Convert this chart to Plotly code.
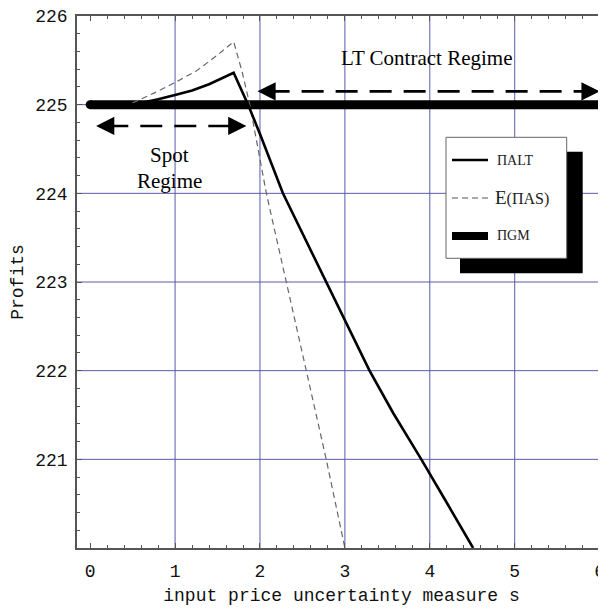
import plotly.graph_objects as go

# ---- data ----
s_alt = [0.5, 0.8, 1.0, 1.2, 1.4, 1.69, 1.86, 2.0, 2.27, 2.5, 2.78, 3.0, 3.29, 3.57, 3.9, 4.2, 4.51]
pi_alt = [225.0, 225.06, 225.11, 225.16, 225.23, 225.36, 225.0, 224.67, 224.0, 223.55,
          223.0, 222.57, 222.0, 221.52, 221.0, 220.51, 220.0]
s_as = [0.5, 0.75, 1.0, 1.25, 1.5, 1.69, 1.79, 1.88, 2.075, 2.31, 2.55, 2.78, 3.0]
e_as = [225.02, 225.13, 225.25, 225.38, 225.56, 225.71, 225.37, 225.0, 224.0, 223.0, 222.0, 221.0, 220.0]
s_gm = [0, 6]
pi_gm = [225, 225]
x_ticks = [0, 1, 2, 3, 4, 5, 6]
y_ticks = [221, 222, 223, 224, 225, 226]
grid_x = [1, 2, 3, 4, 5]
grid_y = [221, 222, 223, 224, 225]
spot_arrow = (0.07, 1.84, 224.76)
lt_arrow = (1.97, 6.0, 225.15)
legend_labels = ["ΠALT", "E(ΠAS)", "ΠGM"]

# page body has an 8px default margin; size the figure so it fills the 606x611 window
OFF = 8
W, H = 606 - OFF, 611 - OFF
L, R, T, B = 77 - OFF, 0, 16 - OFF, 63
PW, PH = W - L - R, H - T - B


def px(xp):
    return (xp - OFF - L) / PW


def py(yp):
    return 1 - (yp - OFF - T) / PH


fig = go.Figure()
fig.add_trace(go.Scatter(x=s_gm, y=pi_gm, mode="lines+markers",
                         line=dict(color="black", width=9),
                         marker=dict(color="black", size=9), showlegend=False, cliponaxis=False))
fig.add_trace(go.Scatter(x=s_as, y=e_as, mode="lines",
                         line=dict(color="#666666", width=1.2, dash="6px,4px"), showlegend=False))
fig.add_trace(go.Scatter(x=s_alt, y=pi_alt, mode="lines",
                         line=dict(color="black", width=2.6), showlegend=False))

shapes = []
for gx in grid_x:
    shapes.append(dict(type="line", xref="x", yref="paper", x0=gx, x1=gx, y0=0, y1=1,
                       line=dict(color="#5a5aaa", width=1), layer="below"))
for gy in grid_y:
    shapes.append(dict(type="line", xref="paper", yref="y", x0=0, x1=1, y0=gy, y1=gy,
                       line=dict(color="#5a5aaa", width=1), layer="below"))

# dashed regime arrows
for (xa, xb, ya) in [spot_arrow, lt_arrow]:
    shapes.append(dict(type="line", xref="x", yref="y", x0=xa + 0.12, x1=xb - 0.12, y0=ya, y1=ya,
                       line=dict(color="black", width=2.6, dash="22px,12px")))

# legend box with shadow
shapes.append(dict(type="rect", xref="paper", yref="paper", x0=px(460), x1=px(582.7),
                   y0=py(273.3), y1=py(151.7), fillcolor="black", line=dict(width=0)))
shapes.append(dict(type="rect", xref="paper", yref="paper", x0=px(446), x1=px(566.7),
                   y0=py(258.3), y1=py(137.3), fillcolor="white", line=dict(color="#666", width=1)))
leg_y = [160, 198, 236]
shapes.append(dict(type="line", xref="paper", yref="paper", x0=px(452), x1=px(488),
                   y0=py(leg_y[0]), y1=py(leg_y[0]), line=dict(color="black", width=2.6)))
shapes.append(dict(type="line", xref="paper", yref="paper", x0=px(452), x1=px(488),
                   y0=py(leg_y[1]), y1=py(leg_y[1]), line=dict(color="#555", width=1.2, dash="6px,4px")))
shapes.append(dict(type="line", xref="paper", yref="paper", x0=px(452), x1=px(488),
                   y0=py(leg_y[2]), y1=py(leg_y[2]), line=dict(color="black", width=8)))

annotations = []
# arrow heads
for (xa, xb, ya) in [spot_arrow, lt_arrow]:
    for tip, tail in [(xa, xa + 0.2), (xb, xb - 0.2)]:
        annotations.append(dict(x=tip, y=ya, ax=tail, ay=ya, xref="x", yref="y", axref="x", ayref="y",
                                showarrow=True, arrowhead=2, arrowsize=1.4, arrowwidth=2.6,
                                arrowcolor="black", text=""))
serif = "Liberation Serif"
annotations.append(dict(x=3.96, y=225.53, xref="x", yref="y", text="LT Contract Regime",
                        showarrow=False, font=dict(family=serif, size=21, color="black")))
annotations.append(dict(x=0.94, y=224.43, xref="x", yref="y", text="Spot",
                        showarrow=False, font=dict(family=serif, size=21, color="black")))
annotations.append(dict(x=0.94, y=224.14, xref="x", yref="y", text="Regime",
                        showarrow=False, font=dict(family=serif, size=21, color="black")))
leg_x = [495, 493, 495]
leg_sizes = [14, 16, 14]
for lab, lx, ly, sz in zip(legend_labels, leg_x, leg_y, leg_sizes):
    if lab.startswith("E("):
        txt = '<span style="font-size:19px">E</span>(ΠAS)'
    else:
        txt = lab
    annotations.append(dict(x=px(lx), y=py(ly), xref="paper", yref="paper", text=txt,
                            xanchor="left", yanchor="middle", showarrow=False,
                            font=dict(family=serif, size=sz, color="#222")))

mono = "Liberation Mono"
fig.update_layout(
    width=W, height=H, margin=dict(l=L, r=R, t=T, b=B, autoexpand=False),
    paper_bgcolor="white", plot_bgcolor="white",
    shapes=shapes, annotations=annotations,
    xaxis=dict(range=[-0.155, 6.075], tickvals=x_ticks, ticktext=[str(v) for v in x_ticks],
               automargin=False, ticklabeloverflow="allow",
               showgrid=False, zeroline=False, showline=True, linecolor="#555", linewidth=1.5,
               mirror="allticks", ticks="inside", ticklen=5, tickcolor="#555", tickwidth=1,
               minor=dict(dtick=0.2, ticks="inside", ticklen=3, tickcolor="#555", showgrid=False),
               tickfont=dict(family=mono, size=18, color="#111"), ticklabelstandoff=6,
               title=dict(text="input price uncertainty measure s", font=dict(family=mono, size=18, color="#111"),
                          standoff=7)),
    yaxis=dict(range=[220, 226], tickvals=y_ticks, ticktext=[str(v) for v in y_ticks],
               automargin=False, ticklabeloverflow="allow",
               showgrid=False, zeroline=False, showline=True, linecolor="#555", linewidth=1.5,
               mirror="allticks", ticks="inside", ticklen=5, tickcolor="#555", tickwidth=1,
               minor=dict(dtick=0.2, ticks="inside", ticklen=3, tickcolor="#555", showgrid=False),
               tickfont=dict(family=mono, size=18, color="#111"), ticklabelstandoff=4,
               title=dict(text="Profits", font=dict(family=mono, size=18, color="#111"), standoff=10)),
)
fig.write_html("out.html")
